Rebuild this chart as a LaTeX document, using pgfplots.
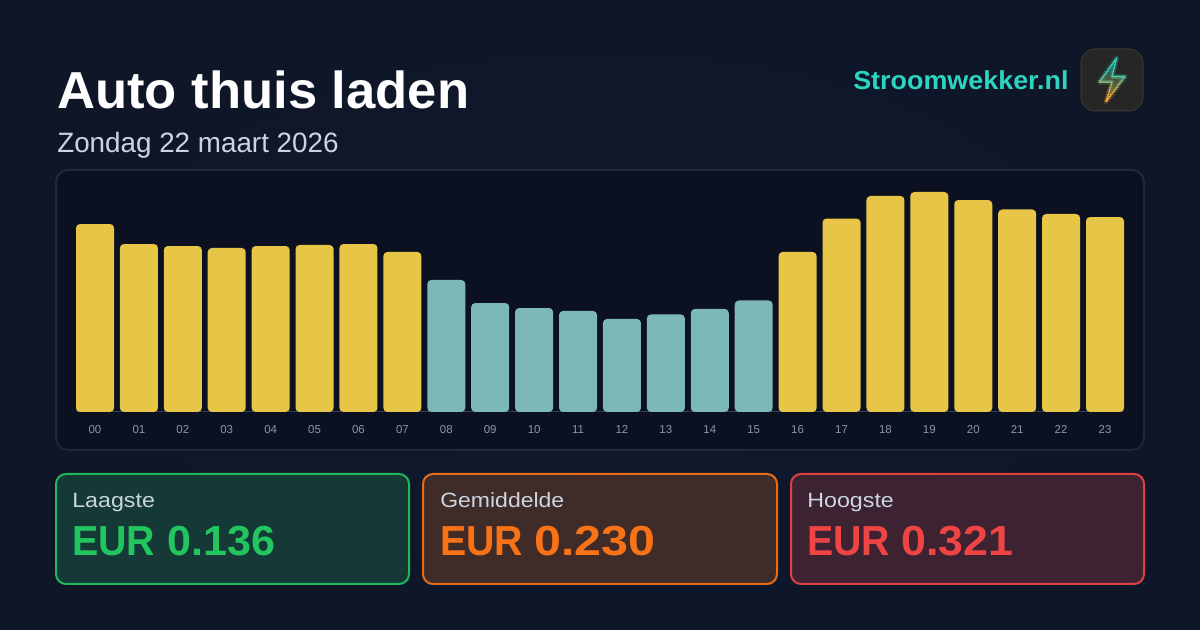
\documentclass[border=0pt]{standalone}
\usepackage{graphicx}
\usepackage{fontspec}
\setmainfont{Liberation Sans}
\usepackage{pgfplots}
\pgfplotsset{compat=1.18}
\usetikzlibrary{calc}
\definecolor{bgA}{HTML}{0E1628}
\definecolor{bgB}{HTML}{111A2E}
\definecolor{panelc}{HTML}{0B1120}
\definecolor{panelb}{HTML}{1E293B}
\definecolor{yel}{HTML}{E6C547}
\definecolor{tealc}{HTML}{7DB8B8}
\definecolor{tickc}{HTML}{8A96A8}
\definecolor{axc}{HTML}{334155}
\definecolor{subc}{HTML}{CBD5E1}
\definecolor{brand}{HTML}{2DD4BF}
\definecolor{amber}{HTML}{F5A63A}
\definecolor{gr}{HTML}{22C55E}
\definecolor{orr}{HTML}{F97316}
\definecolor{rd}{HTML}{EF4444}
\newcommand{\px}[2]{\fontsize{#1}{#2}\selectfont}
\newcommand{\wtxt}[2]{\resizebox{#1}{\height}{#2}}
\begin{document}
\begin{tikzpicture}[x=0.75pt,y=-0.75pt]
\shade[inner color=bgB,outer color=bgA] (0,0) rectangle (1200,630);
% title
\node[anchor=base west,inner sep=0,text=white] at (57,108.5) {\wtxt{309pt}{\px{39}{39}\bfseries Auto thuis laden}};
\node[anchor=base west,inner sep=0,text=subc] at (57,152.5) {\wtxt{211pt}{\px{21}{21}Zondag 22 maart 2026}};
\node[anchor=base west,inner sep=0,text=brand] at (853,90) {\wtxt{161.5pt}{\px{19.5}{19.5}\bfseries Stroomwekker.nl}};
% icon
\definecolor{iconf}{HTML}{262626}
\definecolor{iconb}{HTML}{3A3A3A}
\draw[fill=iconf,draw=iconb,line width=0.75pt,rounded corners=10.5pt] (1081,49) rectangle (1143,111);
\def\bolt{(1116.7,58) -- (1099.3,82) -- (1112,82) -- (1106,101.7) -- (1125,76.5) -- (1112,76.5) -- cycle}
\begin{scope}
\clip \bolt;
\shade[top color=brand!40!iconf,bottom color=amber!50!iconf,opacity=0.7] (1095,58) rectangle (1128,102);
\end{scope}
\foreach \i in {0,...,21}{
  \pgfmathsetmacro{\m}{min(100,max(0,(\i-7)*10))}
  \pgfmathsetmacro{\ya}{55+\i*2.3}
  \pgfmathsetmacro{\yb}{\ya+2.4}
  \begin{scope}
  \clip (1090,\ya) rectangle (1135,\yb);
  \draw[line width=3.5pt,opacity=0.2,line join=round,color=amber!\m!brand] \bolt;
  \draw[line width=0.8pt,line join=round,color=amber!\m!brand] \bolt;
  \end{scope}
}
% panel
\draw[fill=panelc,draw=panelb,line width=1.5pt,rounded corners=9pt] (56,170) rectangle (1144,450);
\begin{axis}[at={(71.25pt,-309pt)},anchor=origin,scale only axis,width=786pt,height=165pt,
  xmin=-0.4327,xmax=23.4327,ymin=0,ymax=0.321,
  ybar,bar width=28.5pt,bar shift=0pt,
  axis y line=none,axis x line=bottom,
  x axis line style={draw=axc,-,line width=0.75pt},
  xtick={0,...,23},
  xticklabels={00,01,02,03,04,05,06,07,08,09,10,11,12,13,14,15,16,17,18,19,20,21,22,23},
  xtick style={draw=none},
  x tick label style={text=tickc,font=\px{8.6}{8.6},yshift=-4.2pt},
  clip=false]
\addplot[fill=yel,draw=none,rounded corners=3pt] coordinates {
 (0,0.2743)(1,0.2451)(2,0.2422)(3,0.2393)(4,0.2422)(5,0.2437)(6,0.2451)(7,0.2335)
 (16,0.2335)(17,0.2823)(18,0.3152)(19,0.3210)(20,0.3093)(21,0.2955)(22,0.2889)(23,0.2845)};
\addplot[fill=tealc,draw=none,rounded corners=3pt] coordinates {
 (8,0.1926)(9,0.1590)(10,0.1517)(11,0.1474)(12,0.1357)(13,0.1423)(14,0.1503)(15,0.1627)};
\end{axis}
% stat boxes
\draw[fill=gr!18!bgB,draw=gr!92!bgB,line width=1.5pt,rounded corners=7.5pt] (56,474) rectangle (409,584);
\draw[fill=orr!20!bgB,draw=orr!92!bgB,line width=1.5pt,rounded corners=7.5pt] (423,474) rectangle (777,584);
\draw[fill=rd!20!bgB,draw=rd!92!bgB,line width=1.5pt,rounded corners=7.5pt] (791,474) rectangle (1144,584);
\foreach \x/\lab/\val/\c/\wl/\wv/\xn in {72/Laagste/0.136/gr/62/81/167,440/Gemiddelde/0.230/orr/93/90.75/534,807/Hoogste/0.321/rd/65/84/901}{
  \node[anchor=base west,inner sep=0,text=subc] at (\x,508) {\wtxt{\wl pt}{\px{15.5}{15.5}\lab}};
  \node[anchor=base west,inner sep=0,text=\c] at (\x,556) {\wtxt{62.25pt}{\px{31.5}{31.5}\bfseries EUR}};
  \node[anchor=base west,inner sep=0,text=\c] at (\xn,556) {\wtxt{\wv pt}{\px{31.5}{31.5}\bfseries\val}};
}
\end{tikzpicture}
\end{document}
